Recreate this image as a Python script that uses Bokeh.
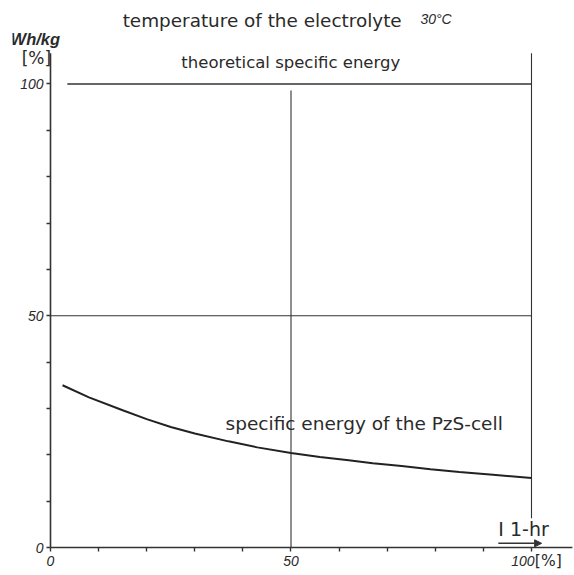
from bokeh.plotting import figure
from bokeh.models import Label, FixedTicker, Arrow, NormalHead, Range1d
from bokeh.core.properties import value
from bokeh.embed import file_html
from bokeh.resources import INLINE

# ---- data / texts ----
title_text = "temperature of the electrolyte"
title_temp = "30°C"
y_unit = "Wh/kg"
pct = "[%]"
x_label = "I 1-hr"
x_major = [0, 50, 100]
y_major = [0, 50, 100]
x_tick_labels = ["0", "50", "100"]
y_tick_labels = ["0", "50", "100"]
all_ticks = [0, 10, 20, 30, 40, 50, 60, 70, 80, 90, 100]

x_axis_extent = [0, 108.5]
y_axis_extent = [0, 106.6]

theo_level = 100
theo_label = "theoretical specific energy"
theo_x_extent = [3.5, 100]

half_level = 50
half_x_extent = [0, 100]

grid_v_x = [50, 100]
grid_v_y0 = [0, 6.3]
grid_v_y1 = [98.6, 106.6]

curve_x = [2.5, 8, 15, 20, 25, 30, 37, 43, 50, 56, 62, 67, 73, 79, 85, 92, 100]
curve_y = [35.0, 32.4, 29.6, 27.7, 26.0, 24.6, 22.9, 21.6, 20.4, 19.5, 18.8, 18.2, 17.6, 16.9, 16.3, 15.7, 15.0]
curve_label = "specific energy of the PzS-cell"

INK = "#2a2a2a"
LINE = "#333333"
TXT_FONT = "DejaVu Sans"
NUM_FONT = "Liberation Sans"

p = figure(width=574, height=575,
           x_range=Range1d(-7.9, 108.94), y_range=Range1d(-4.96, 118.0),
           output_backend="svg", toolbar_location=None,
           min_border_left=12, min_border_right=0,
           min_border_top=0, min_border_bottom=5)
p.xgrid.visible = False
p.ygrid.visible = False
p.outline_line_color = None
p.background_fill_color = "white"

for ax in (p.xaxis, p.yaxis):
    ax.fixed_location = 0
    # every tick drawn as a short outward mark; labels are drawn below as text
    ax.ticker = FixedTicker(ticks=[], minor_ticks=all_ticks)
    ax.axis_line_color = None
    ax.minor_tick_line_color = LINE
    ax.minor_tick_line_width = 1.4
    ax.minor_tick_in = 0
    ax.minor_tick_out = 4
    ax.major_tick_line_color = None
    ax.major_label_standoff = 0

# axis lines
p.segment(x0=[x_axis_extent[0]], x1=[x_axis_extent[1]], y0=[0], y1=[0],
          line_color=LINE, line_width=1.6)
p.segment(x0=[0], x1=[0], y0=[y_axis_extent[0]], y1=[y_axis_extent[1]],
          line_color=LINE, line_width=1.6)

# tick labels at the axis tick values
num_style = dict(text_font=value(NUM_FONT), text_font_style="italic",
                 text_font_size="14px", text_color=INK)
p.text(x=[0] * len(y_major), y=y_major, text=y_tick_labels, x_offset=-7,
       text_align="right", text_baseline="middle", **num_style)
p.text(x=x_major[:-1], y=[0] * (len(x_major) - 1), text=x_tick_labels[:-1], y_offset=8,
       text_align="center", text_baseline="top", **num_style)
p.text(x=x_major[-1:], y=[0], text=x_tick_labels[-1:], y_offset=8, x_offset=3,
       text_align="right", text_baseline="top", **num_style)

# reference lines
p.segment(x0=[theo_x_extent[0]], x1=[theo_x_extent[1]], y0=[theo_level], y1=[theo_level],
          line_color=LINE, line_width=1.4)
p.segment(x0=[half_x_extent[0]], x1=[half_x_extent[1]], y0=[half_level], y1=[half_level],
          line_color=LINE, line_width=1.1)
p.segment(x0=grid_v_x, x1=grid_v_x, y0=grid_v_y0, y1=grid_v_y1,
          line_color=LINE, line_width=1.1)

# curve
p.line(curve_x, curve_y, line_color="#222222", line_width=2)

def lab(text, x, y, size, font=TXT_FONT, style="normal"):
    p.add_layout(Label(x=x, y=y, text=text, text_font=font, text_font_size=size,
                       text_font_style=style, text_color=INK,
                       text_baseline="middle", text_align="left"))

lab(title_text, 15.0, 113.7, "18.4px")
lab(title_temp, 76.9, 114.0, "14px", NUM_FONT, "italic")
lab(y_unit, -8.3, 109.8, "16.5px", NUM_FONT, "bold italic")
lab(pct, -6.0, 105.7, "17px")
lab(theo_label, 27.2, 104.6, "16.5px")
lab(curve_label, 36.4, 26.8, "18.5px")
lab(x_label, 93.1, 4.1, "19px")
lab(pct, 100.7, -3.0, "15.5px")

p.add_layout(Arrow(end=NormalHead(size=7, fill_color=LINE, line_color=LINE),
                   x_start=93.1, y_start=0.9, x_end=102.1, y_end=0.9,
                   line_color=LINE, line_width=1.5))

open("out.html", "w").write(file_html(p, INLINE))
